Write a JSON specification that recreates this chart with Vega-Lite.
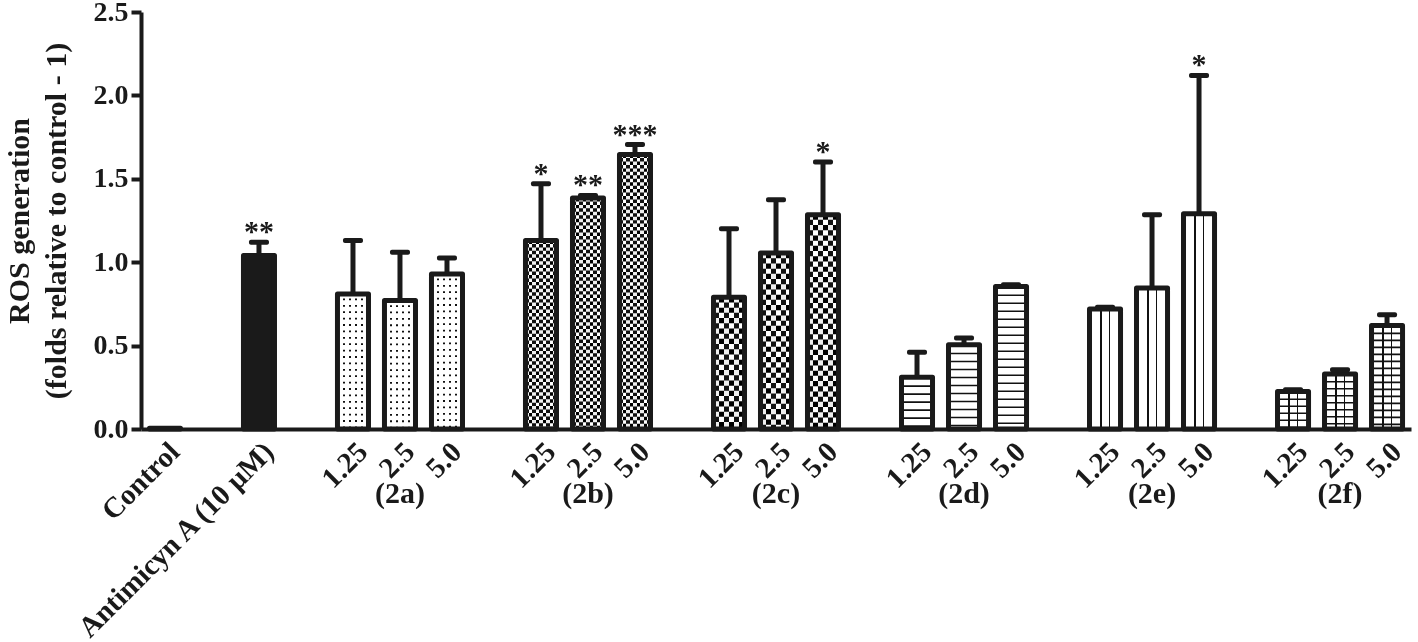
{
  "$schema": "https://vega.github.io/schema/vega-lite/v6.json",
  "width": 1270,
  "height": 417,
  "autosize": "none",
  "padding": {"left": 141, "top": 12, "right": 7, "bottom": 213},
  "background": "white",
  "config": {"view": {"stroke": null}, "font": "Liberation Serif"},
  "data": {
    "values": [
      {"key": "Control", "group": "Control", "value": 0.005, "upper": null, "star": ""},
      {"key": "Antimycin", "group": "Antimycin", "value": 1.04, "upper": 1.12, "star": "**"},
      {"key": "2a-1.25", "group": "2a", "value": 0.81, "upper": 1.13, "star": ""},
      {"key": "2a-2.5", "group": "2a", "value": 0.77, "upper": 1.06, "star": ""},
      {"key": "2a-5.0", "group": "2a", "value": 0.93, "upper": 1.025, "star": ""},
      {"key": "2b-1.25", "group": "2b", "value": 1.13, "upper": 1.47, "star": "*"},
      {"key": "2b-2.5", "group": "2b", "value": 1.385, "upper": 1.4, "star": "**"},
      {"key": "2b-5.0", "group": "2b", "value": 1.645, "upper": 1.705, "star": "***"},
      {"key": "2c-1.25", "group": "2c", "value": 0.79, "upper": 1.2, "star": ""},
      {"key": "2c-2.5", "group": "2c", "value": 1.055, "upper": 1.375, "star": ""},
      {"key": "2c-5.0", "group": "2c", "value": 1.285, "upper": 1.6, "star": "*"},
      {"key": "2d-1.25", "group": "2d", "value": 0.31, "upper": 0.46, "star": ""},
      {"key": "2d-2.5", "group": "2d", "value": 0.505, "upper": 0.545, "star": ""},
      {"key": "2d-5.0", "group": "2d", "value": 0.855, "upper": 0.865, "star": ""},
      {"key": "2e-1.25", "group": "2e", "value": 0.72, "upper": 0.73, "star": ""},
      {"key": "2e-2.5", "group": "2e", "value": 0.845, "upper": 1.285, "star": ""},
      {"key": "2e-5.0", "group": "2e", "value": 1.29, "upper": 2.12, "star": "*"},
      {"key": "2f-1.25", "group": "2f", "value": 0.225, "upper": 0.235, "star": ""},
      {"key": "2f-2.5", "group": "2f", "value": 0.33, "upper": 0.355, "star": ""},
      {"key": "2f-5.0", "group": "2f", "value": 0.62, "upper": 0.685, "star": ""}
    ]
  },
  "encoding": {
    "x": {
      "field": "key", "type": "nominal",
      "scale": {"domain": ["Control", "gap1", "Antimycin", "gap2", "2a-1.25", "2a-2.5", "2a-5.0", "gap3", "2b-1.25", "2b-2.5", "2b-5.0", "gap4", "2c-1.25", "2c-2.5", "2c-5.0", "gap5", "2d-1.25", "2d-2.5", "2d-5.0", "gap6", "2e-1.25", "2e-2.5", "2e-5.0", "gap7", "2f-1.25", "2f-2.5", "2f-5.0"], "paddingInner": 0.34, "paddingOuter": 0.18},
      "axis": null
    },
    "y": {"field": "value", "type": "quantitative", "scale": {"domain": [0, 2.5], "nice": false}, "axis": null}
  },
  "layer": [
    {
      "transform": [{"filter": "datum.group == '2a'"}],
      "mark": {"type": "bar", "fill": {"gradient": "linear", "x1": 0, "y1": 0, "x2": 1, "y2": 0, "stops": [
        {"offset": 0, "color": "#fff"}, {"offset": 0.1806, "color": "#fff"}, {"offset": 0.1806, "color": "#111"}, {"offset": 0.2387, "color": "#111"}, {"offset": 0.2387, "color": "#fff"}, {"offset": 0.3742, "color": "#fff"}, {"offset": 0.3742, "color": "#111"}, {"offset": 0.4323, "color": "#111"}, {"offset": 0.4323, "color": "#fff"}, {"offset": 0.5677, "color": "#fff"}, {"offset": 0.5677, "color": "#111"}, {"offset": 0.6258, "color": "#111"}, {"offset": 0.6258, "color": "#fff"}, {"offset": 0.7613, "color": "#fff"}, {"offset": 0.7613, "color": "#111"}, {"offset": 0.8194, "color": "#111"}, {"offset": 0.8194, "color": "#fff"}, {"offset": 1, "color": "#fff"}]}}
    },
    {
      "transform": [{"filter": "datum.group == '2a'"}],
      "mark": {"type": "rule", "stroke": "#fff", "strokeWidth": 31, "strokeDash": [4.6, 1.8], "strokeCap": "butt"},
      "encoding": {"y2": {"datum": 0}}
    },
    {
      "transform": [{"filter": "datum.group == '2b'"}],
      "mark": {"type": "bar", "fill": {"gradient": "linear", "x1": 0, "y1": 0, "x2": 1, "y2": 0, "stops": [
        {"offset": 0, "color": "#111"}, {"offset": 0.1111, "color": "#111"}, {"offset": 0.1111, "color": "#fff"}, {"offset": 0.2222, "color": "#fff"}, {"offset": 0.2222, "color": "#111"}, {"offset": 0.3333, "color": "#111"}, {"offset": 0.3333, "color": "#fff"}, {"offset": 0.4444, "color": "#fff"}, {"offset": 0.4444, "color": "#111"}, {"offset": 0.5556, "color": "#111"}, {"offset": 0.5556, "color": "#fff"}, {"offset": 0.6667, "color": "#fff"}, {"offset": 0.6667, "color": "#111"}, {"offset": 0.7778, "color": "#111"}, {"offset": 0.7778, "color": "#fff"}, {"offset": 0.8889, "color": "#fff"}, {"offset": 0.8889, "color": "#111"}, {"offset": 1, "color": "#111"}]}}
    },
    {
      "transform": [{"filter": "datum.group == '2b'"}],
      "mark": {"type": "rule", "stroke": "#fff", "strokeWidth": 31, "strokeDash": [3.45, 3.45], "strokeCap": "butt", "blend": "difference"},
      "encoding": {"y2": {"datum": 0}}
    },
    {
      "transform": [{"filter": "datum.group == '2c'"}],
      "mark": {"type": "bar", "fill": {"gradient": "linear", "x1": 0, "y1": 0, "x2": 1, "y2": 0, "stops": [
        {"offset": 0, "color": "#111"}, {"offset": 0.1667, "color": "#111"}, {"offset": 0.1667, "color": "#fff"}, {"offset": 0.3333, "color": "#fff"}, {"offset": 0.3333, "color": "#111"}, {"offset": 0.5, "color": "#111"}, {"offset": 0.5, "color": "#fff"}, {"offset": 0.6667, "color": "#fff"}, {"offset": 0.6667, "color": "#111"}, {"offset": 0.8333, "color": "#111"}, {"offset": 0.8333, "color": "#fff"}, {"offset": 1, "color": "#fff"}]}}
    },
    {
      "transform": [{"filter": "datum.group == '2c'"}],
      "mark": {"type": "rule", "stroke": "#fff", "strokeWidth": 31, "strokeDash": [5.2, 5.2], "strokeCap": "butt", "blend": "difference"},
      "encoding": {"y2": {"datum": 0}}
    },
    {
      "transform": [{"filter": "datum.group == '2d'"}],
      "mark": {"type": "rule", "stroke": "#111", "strokeWidth": 31, "strokeDash": [1.6, 6.4], "strokeCap": "butt"},
      "encoding": {"y2": {"datum": 0}}
    },
    {
      "transform": [{"filter": "datum.group == '2e' || datum.group == '2f'"}],
      "mark": {"type": "bar", "fill": {"gradient": "linear", "x1": 0, "y1": 0, "x2": 1, "y2": 0, "stops": [
        {"offset": 0, "color": "#fff"}, {"offset": 0.3355, "color": "#fff"}, {"offset": 0.3355, "color": "#111"}, {"offset": 0.3871, "color": "#111"}, {"offset": 0.3871, "color": "#fff"}, {"offset": 0.6129, "color": "#fff"}, {"offset": 0.6129, "color": "#111"}, {"offset": 0.6645, "color": "#111"}, {"offset": 0.6645, "color": "#fff"}, {"offset": 1, "color": "#fff"}]}}
    },
    {
      "transform": [{"filter": "datum.group == '2f'"}],
      "mark": {"type": "rule", "stroke": "#111", "strokeWidth": 31, "strokeDash": [1.6, 5.4], "strokeCap": "butt"},
      "encoding": {"y2": {"datum": 0}}
    },
    {
      "mark": {"type": "bar", "stroke": "#1a1a1a", "strokeWidth": 5, "strokeJoin": "round"},
      "encoding": {
        "x": {
          "field": "key", "type": "nominal",
          "scale": {"domain": ["Control", "gap1", "Antimycin", "gap2", "2a-1.25", "2a-2.5", "2a-5.0", "gap3", "2b-1.25", "2b-2.5", "2b-5.0", "gap4", "2c-1.25", "2c-2.5", "2c-5.0", "gap5", "2d-1.25", "2d-2.5", "2d-5.0", "gap6", "2e-1.25", "2e-2.5", "2e-5.0", "gap7", "2f-1.25", "2f-2.5", "2f-5.0"], "paddingInner": 0.34, "paddingOuter": 0.18},
          "axis": {
            "orient": "bottom",
            "labelExpr": "datum.value == 'Control' ? 'Control' : datum.value == 'Antimycin' ? 'Antimicyn A (10 μM)' : indexof(datum.value, 'gap') == 0 ? '' : split(datum.value, '-')[1]",
            "labelAngle": -45, "labelAlign": "right", "labelBaseline": "top",
            "labelFont": "Liberation Serif", "labelFontWeight": "bold", "labelFontSize": 29, "labelColor": "#1a1a1a",
            "labelPadding": 8, "labelLimit": 0, "ticks": false, "tickSize": 0,
            "domainWidth": 4, "domainColor": "#1a1a1a",
            "title": null, "labelOverlap": false, "labelBound": false, "zindex": 1
          }
        },
        "y": {
          "field": "value", "type": "quantitative",
          "scale": {"domain": [0, 2.5], "nice": false},
          "axis": {
            "orient": "left", "values": [0, 0.5, 1, 1.5, 2, 2.5], "format": ".1f",
            "labelFont": "Liberation Serif", "labelFontWeight": "bold", "labelFontSize": 28, "labelColor": "#1a1a1a",
            "labelPadding": 3, "tickSize": 10, "tickWidth": 4, "tickColor": "#1a1a1a",
            "domainWidth": 4, "domainColor": "#1a1a1a", "grid": false,
            "title": ["ROS generation", "(folds relative to control - 1)"],
            "titleFont": "Liberation Serif", "titleFontWeight": "bold", "titleFontSize": 30, "titleColor": "#1a1a1a",
            "titlePadding": 22, "titleLineHeight": 37, "labelOverlap": false, "zindex": 1
          }
        },
        "fill": {"condition": {"test": "datum.group == 'Antimycin'", "value": "#1a1a1a"}, "value": "transparent"}
      }
    },
    {
      "transform": [{"filter": "datum.upper != null"}],
      "mark": {"type": "rule", "strokeWidth": 5, "color": "#1a1a1a"},
      "encoding": {"y2": {"field": "upper"}}
    },
    {
      "transform": [{"filter": "datum.upper != null"}],
      "mark": {"type": "tick", "thickness": 5, "size": 20, "color": "#1a1a1a", "opacity": 1, "cornerRadius": 2},
      "encoding": {
        "x": {
          "field": "key", "type": "nominal",
          "scale": {"domain": ["Control", "gap1", "Antimycin", "gap2", "2a-1.25", "2a-2.5", "2a-5.0", "gap3", "2b-1.25", "2b-2.5", "2b-5.0", "gap4", "2c-1.25", "2c-2.5", "2c-5.0", "gap5", "2d-1.25", "2d-2.5", "2d-5.0", "gap6", "2e-1.25", "2e-2.5", "2e-5.0", "gap7", "2f-1.25", "2f-2.5", "2f-5.0"], "paddingInner": 0.34, "paddingOuter": 0.18},
          "axis": {
            "orient": "bottom",
            "labelExpr": "indexof(datum.value, '-2.5') > 0 ? '(' + split(datum.value, '-')[0] + ')' : ''",
            "labelAngle": 0, "labelAlign": "center", "labelBaseline": "top",
            "labelFont": "Liberation Serif", "labelFontWeight": "bold", "labelFontSize": 30, "labelColor": "#1a1a1a",
            "labelPadding": 49, "ticks": false, "tickSize": 0, "domain": false,
            "title": null, "labelOverlap": false, "labelBound": false, "zindex": 1
          }
        },
        "y": {"field": "upper", "type": "quantitative", "scale": {"domain": [0, 2.5], "nice": false}, "axis": null}
      }
    },
    {
      "transform": [{"filter": "datum.star != ''"}],
      "mark": {"type": "text", "font": "Liberation Serif", "fontWeight": "bold", "fontSize": 30, "baseline": "alphabetic", "align": "center", "dy": -1, "color": "#1a1a1a"},
      "encoding": {
        "y": {"field": "upper", "type": "quantitative", "scale": {"domain": [0, 2.5], "nice": false}, "axis": null},
        "text": {"field": "star"}
      }
    }
  ],
  "resolve": {"axis": {"x": "independent", "y": "independent"}}
}
